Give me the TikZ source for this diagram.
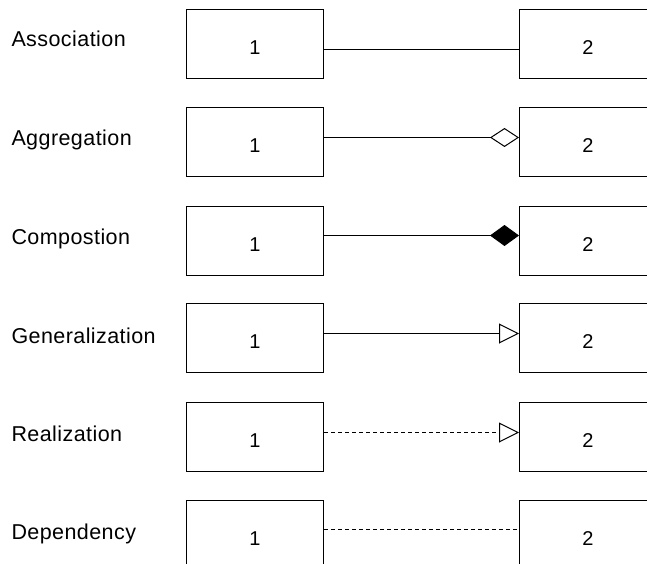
\documentclass[tikz,border=0pt]{standalone}
\usepackage{fontspec}
\setmainfont{Liberation Sans}[LetterSpace=2]
\usetikzlibrary{arrows.meta}
\begin{document}
\begin{tikzpicture}[x=1pt,y=-1pt,line width=1pt,
  box/.style={draw,rectangle,minimum width=137pt,minimum height=69pt,anchor=north west,
    inner sep=0pt,text height=21pt,text depth=0pt,font=\fontsize{20}{24}\selectfont},
  lbl/.style={anchor=base west,inner sep=0pt,font=\fontsize{21.5}{25}\selectfont},
  dsh/.style={dash pattern=on 4pt off 3pt},
  odiam/.style={-{Diamond[open,length=29pt,width=19pt]}},
  fdiam/.style={-{Diamond[length=29pt,width=21pt]}},
  otri/.style={-{Triangle[open,length=20pt,width=20pt]}}]
\useasboundingbox (0,0) rectangle (647,564);
\clip (0,0) rectangle (647,564);
% labels
\node[lbl] (t1) at (11,47) {Association};
\node[lbl] (t2) at (11,146) {Aggregation};
\node[lbl] (t3) at (11,244) {Compostion};
\node[lbl] (t4) at (11,343) {Generalization};
\node[lbl] (t5) at (11,441) {Realization};
\node[lbl] (t6) at (11,539) {Dependency};
% boxes
\node[box] (l1) at (186,9) {1};   \node[box] (r1) at (519,9) {2};
\node[box] (l2) at (186,107) {1}; \node[box] (r2) at (519,107) {2};
\node[box] (l3) at (186,206) {1}; \node[box] (r3) at (519,206) {2};
\node[box] (l4) at (186,303) {1}; \node[box] (r4) at (519,303) {2};
\node[box] (l5) at (186,402) {1}; \node[box] (r5) at (519,402) {2};
\node[box] (l6) at (186,500) {1}; \node[box] (r6) at (519,500) {2};
% connectors
\draw ([yshift=-5.5pt]l1.east) -- ([yshift=-5.5pt]r1.west);
\draw[odiam] ([yshift=4.5pt]l2.east) -- ([yshift=4.5pt]r2.west);
\draw[fdiam] ([yshift=5.5pt]l3.east) -- ([yshift=5.5pt]r3.west);
\draw[otri] ([yshift=4.5pt]l4.east) -- ([yshift=4.5pt]r4.west);
\draw[otri,dsh] ([yshift=4.5pt]l5.east) -- ([yshift=4.5pt]r5.west);
\draw[dsh] ([yshift=5.5pt]l6.east) -- ([yshift=5.5pt]r6.west);
\end{tikzpicture}
\end{document}
